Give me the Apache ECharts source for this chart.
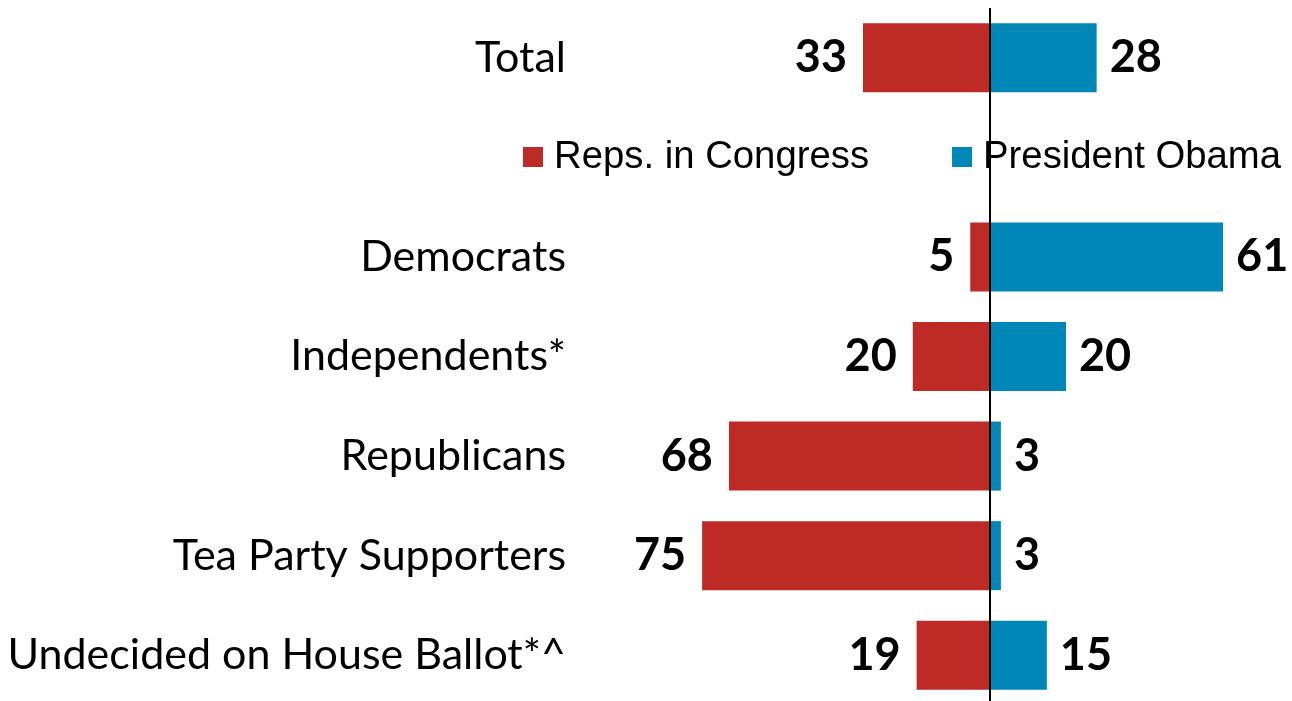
<!DOCTYPE html>
<html>
<head>
<meta charset="utf-8">
<script src="https://cdn.jsdelivr.net/npm/echarts@6/dist/echarts.min.js"></script>
<style>
  html, body { margin: 0; padding: 0; background: #fff; }
  #chart { width: 1292px; height: 701px; }
</style>
</head>
<body>
<div id="chart"></div>
<script>
// Groups (blank row holds the legend)
const categories = ['Total', '', 'Democrats', 'Independents*', 'Republicans', 'Tea Party Supporters', 'Undecided on House Ballot*^'];
// Percent who say each side is most to blame
const repsInCongress = [33, null, 5, 20, 68, 75, 19];
const presidentObama = [28, null, 61, 20, 3, 3, 15];
const seriesNames = ['Reps. in Congress', 'President Obama'];

const RED = '#BE2A26';
const BLUE = '#0087B8';
const valueFont = { fontFamily: 'Lato', fontWeight: 'bold', fontSize: 45, color: '#000' };

const chart = echarts.init(document.getElementById('chart'), null, { renderer: 'canvas' });

chart.setOption({
  animation: false,
  backgroundColor: '#fff',
  legend: {
    data: seriesNames,
    left: 523,
    top: 138,
    padding: 0,
    icon: 'rect',
    itemWidth: 20,
    itemHeight: 20,
    itemGap: 83,
    textStyle: { fontFamily: 'Liberation Sans', fontSize: 38.3, color: '#000', padding: [0, 0, 0, 6] }
  },
  grid: { left: 683, width: 612.8, top: 8, height: 697, outerBoundsMode: 'none', containLabel: false },
  xAxis: { type: 'value', min: -80, max: 80, show: false },
  yAxis: {
    type: 'category',
    inverse: true,
    data: categories,
    axisLine: { show: false },
    axisTick: { show: false },
    splitLine: { show: false },
    axisLabel: { margin: 117, fontFamily: 'Lato', fontSize: 43, color: '#000' }
  },
  series: [
    {
      name: seriesNames[0],
      type: 'bar',
      barWidth: 69,
      barGap: '-100%',
      itemStyle: { color: RED },
      data: repsInCongress.map(v => v == null ? null : -v),
      label: {
        show: true,
        position: 'left',
        distance: 16,
        formatter: p => Math.abs(p.value),
        ...valueFont
      }
    },
    {
      name: seriesNames[1],
      type: 'bar',
      barWidth: 69,
      barGap: '-100%',
      itemStyle: { color: BLUE },
      data: presidentObama,
      label: {
        show: true,
        position: 'right',
        distance: 13,
        ...valueFont
      },
      markLine: {
        silent: true,
        symbol: 'none',
        label: { show: false },
        lineStyle: { color: '#000', width: 2, type: 'solid' },
        data: [{ xAxis: 0 }]
      }
    }
  ]
});
</script>
</body>
</html>
